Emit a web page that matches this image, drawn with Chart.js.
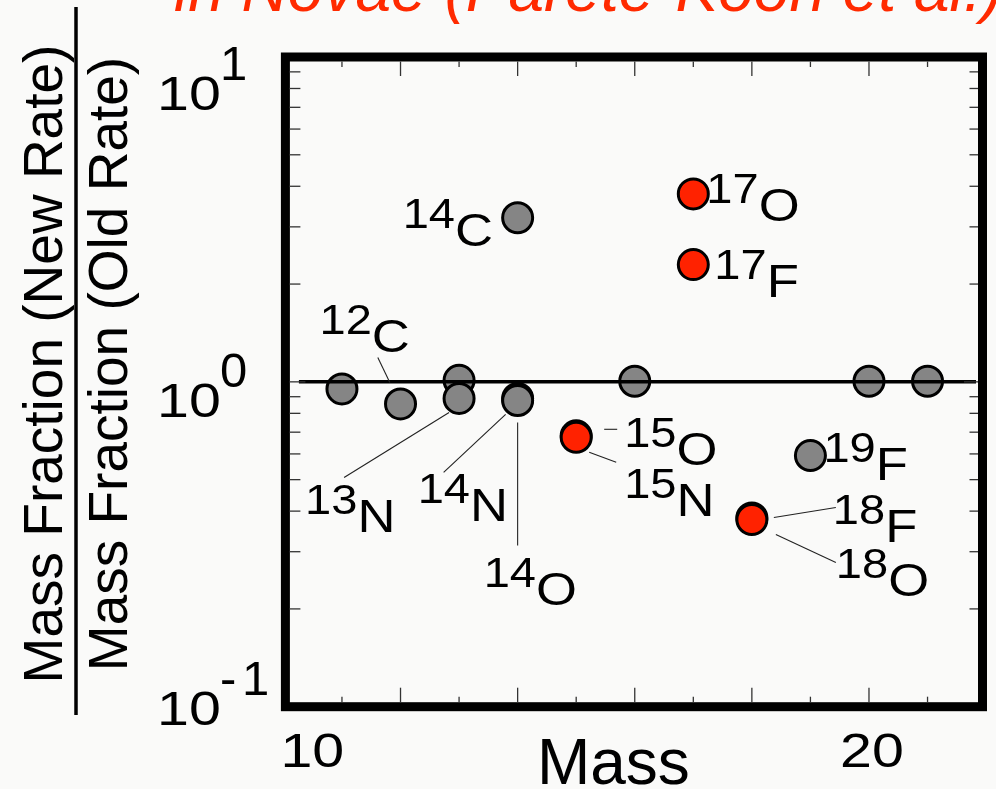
<!DOCTYPE html>
<html>
<head>
<meta charset="utf-8">
<title>Mass fraction ratio vs mass</title>
<script src="https://cdn.jsdelivr.net/npm/chart.js@4.4.0/dist/chart.umd.min.js"></script>
<style>
    html, body { margin: 0; padding: 0; overflow: hidden; background: #fafaf9; }
    #ratioChart { display: block; }
</style>
</head>
<body>
<canvas id="ratioChart" width="1000" height="789"></canvas>
<script>
// Mass fraction (new rate) / mass fraction (old rate)
const grayMass  = [11, 12, 13, 13, 14, 14, 14, 16, 19, 20, 21];
const grayRatio = [0.951, 0.855, 1.011, 0.889, 3.2, 0.889, 0.876, 1.004, 0.593, 1.004, 1.004];
const redMass   = [15, 15, 17, 17, 18, 18];
const redRatio  = [0.682, 0.675, 3.79, 2.296, 0.381, 0.377];

// Nuclide labels
const labelMass   = [14, 17, 17, 12, 13, 14, 14, 15, 15, 19, 18, 18];
const labelRatio  = [3.2, 3.79, 2.296, 0.855, 0.889, 0.889, 0.889, 0.675, 0.675, 0.593, 0.377, 0.377];
const labelA      = ['14', '17', '17', '12', '13', '14', '14', '15', '15', '19', '18', '18'];
const labelSymbol = ['C', 'O', 'F', 'C', 'N', 'N', 'O', 'O', 'N', 'F', 'F', 'O'];

// Axes
const xRange = [10, 21.93];
const yRange = [0.1, 10];
const xTickLabels = [10, 20];
const yTickExponents = [-1, 0, 1];

const titleText = 'in Novae (Parete-Koon et al.)';
const xTitle = 'Mass';
const yTitleTop = 'Mass Fraction (New Rate)';
const yTitleBottom = 'Mass Fraction (Old Rate)';

const FONT = '"Liberation Sans", Arial, Helvetica, sans-serif';

// label placement relative to its point: superscript origin dx, element baseline dy, optional leader line
const labelLayout = [
    { dx: -115, dy: 28 },
    { dx: 13, dy: 27 },
    { dx: 21, dy: 32 },
    { dx: -81, dy: -52, lead: [-22.7, -46.5, -10.7, -21.5] },
    { dx: -154, dy: 134, lead: [-115, 79, -10, 14] },
    { dx: -100, dy: 123, lead: [-74, 74, -12, 16] },
    { dx: -34, dy: 207, lead: [0, 24, 0, 147] },
    { dx: 48, dy: 28, lead: [28, -8, 41, -8] },
    { dx: 48, dy: 79, lead: [13, 15, 40, 25] },
    { dx: 13, dy: 24 },
    { dx: 81, dy: 23, lead: [22, -2, 84, -12] },
    { dx: 84, dy: 77, lead: [24, 15, 84, 43] }
];

function toPoints(xs, ys) {
    return xs.map((x, i) => ({ x: x, y: ys[i] }));
}

// text with a slight horizontal stretch, like the original lettering
function stretchText(ctx, text, x, y, font, sx) {
    ctx.save();
    ctx.translate(x, y);
    ctx.scale(sx, 1);
    ctx.font = font;
    ctx.fillText(text, 0, 0);
    const w = ctx.measureText(text).width * sx;
    ctx.restore();
    return w;
}

function line(ctx, x1, y1, x2, y2) {
    ctx.beginPath();
    ctx.moveTo(x1, y1);
    ctx.lineTo(x2, y2);
    ctx.stroke();
}

const framePlugin = {
    id: 'framePlugin',
    beforeDraw(chart) {
        const ctx = chart.ctx;
        ctx.save();
        ctx.fillStyle = '#fafaf9';
        ctx.fillRect(0, 0, chart.width, chart.height);
        ctx.restore();
    },
    afterDatasetsDraw(chart) {
        const ctx = chart.ctx;
        const a = chart.chartArea;
        const xs = chart.scales.x;
        const ys = chart.scales.y;
        ctx.save();
        ctx.fillStyle = '#000';
        ctx.strokeStyle = '#000';
        ctx.textAlign = 'left';
        ctx.textBaseline = 'alphabetic';

        // reference line at ratio = 1
        const y1 = ys.getPixelForValue(1);
        ctx.lineWidth = 3.5;
        line(ctx, a.left + 15.5, y1, a.right - 6, y1);

        // frame
        ctx.lineWidth = 9;
        ctx.strokeRect(a.left + 2, a.top, a.right - a.left - 1.5, a.bottom - a.top);

        // inward ticks
        ctx.lineWidth = 1.3;
        ctx.strokeStyle = '#333';
        for (let m = 11; m <= 21; m++) {
            const px = xs.getPixelForValue(m);
            const len = m % 2 === 0 ? 19 : 10;
            line(ctx, px, a.top + 4.5, px, a.top + len);
            line(ctx, px, a.bottom - 4.5, px, a.bottom - len);
        }
        [0.1, 1].forEach(dec => {
            for (let k = 1; k <= 9; k++) {
                const v = dec * k;
                if (v <= yRange[0]) continue;
                const py = ys.getPixelForValue(v);
                const major = k === 1;
                line(ctx, a.left + 6, py, a.left + (major ? 22 : 17), py);
                line(ctx, a.right - 4, py, a.right - (major ? 18 : 12.5), py);
            }
        });

        // nuclide labels and leader lines
        ctx.strokeStyle = '#222';
        ctx.lineWidth = 1.1;
        ctx.fillStyle = '#000';
        labelMass.forEach((m, i) => {
            const px = xs.getPixelForValue(m);
            const py = ys.getPixelForValue(labelRatio[i]);
            const L = labelLayout[i];
            if (L.lead) line(ctx, px + L.lead[0], py + L.lead[1], px + L.lead[2], py + L.lead[3]);
            const w = stretchText(ctx, labelA[i], px + L.dx, py + L.dy - 18, '42px ' + FONT, 1.12);
            stretchText(ctx, labelSymbol[i], px + L.dx + w, py + L.dy, '47px ' + FONT, 1.12);
        });

        // x tick labels
        xTickLabels.forEach((v, i) => {
            const px = xs.getPixelForValue(v);
            ctx.font = '49px ' + FONT;
            const w = ctx.measureText(String(v)).width * 1.17;
            const x0 = i === 0 ? px - 3 : px + 3 - w / 2;
            stretchText(ctx, String(v), x0, 767, '49px ' + FONT, 1.17);
        });

        // y tick labels 10^n
        const yLabelDy = { '-1': 18, '0': 35, '1': 53 };
        yTickExponents.forEach(e => {
            const py = ys.getPixelForValue(Math.pow(10, e));
            const base = py + yLabelDy[String(e)];
            stretchText(ctx, '10', 157, base, '49px ' + FONT, 1.17);
            ctx.font = '49px ' + FONT;
            if (e < 0) {
                ctx.fillText('-', 220, base - 30);
                ctx.fillText(String(-e), 242, base - 30);
            } else {
                ctx.fillText(String(e), 220, base - 30);
            }
        });

        // x axis title
        ctx.font = '64px ' + FONT;
        ctx.textAlign = 'center';
        ctx.fillText(xTitle, a.left + 330, 784);

        // y axis title as a fraction
        ctx.font = '55px ' + FONT;
        [[yTitleTop, 62], [yTitleBottom, 127]].forEach(t => {
            ctx.save();
            ctx.translate(t[1], 364);
            ctx.rotate(-Math.PI / 2);
            ctx.fillText(t[0], 0, 0);
            ctx.restore();
        });
        ctx.strokeStyle = '#000';
        ctx.lineWidth = 3.5;
        line(ctx, 76, 7, 76, 715);

        // title, cut off at the top edge
        ctx.textAlign = 'left';
        ctx.fillStyle = '#ff2a00';
        ctx.font = 'italic 64px ' + FONT;
        ctx.fillText(titleText, 174, 11);

        ctx.restore();
    }
};

document.addEventListener('DOMContentLoaded', function() {
    const ctx = document.getElementById('ratioChart').getContext('2d');
    new Chart(ctx, {
        type: 'scatter',
        data: {
            datasets: [{
                data: toPoints(redMass, redRatio),
                backgroundColor: '#ff2200',
                borderColor: '#000',
                borderWidth: 3,
                pointRadius: 15,
                pointHoverRadius: 15
            }, {
                data: toPoints(grayMass, grayRatio),
                backgroundColor: '#858585',
                borderColor: '#000',
                borderWidth: 3,
                pointRadius: 15,
                pointHoverRadius: 15
            }]
        },
        options: {
            responsive: false,
            animation: false,
            devicePixelRatio: 1,
            events: [],
            layout: {
                padding: { left: 283.4, top: 57, right: 5, bottom: 82.3 }
            },
            plugins: {
                legend: { display: false },
                tooltip: { enabled: false },
                title: { display: false }
            },
            scales: {
                x: { type: 'linear', min: xRange[0], max: xRange[1], display: false },
                y: { type: 'logarithmic', min: yRange[0], max: yRange[1], display: false }
            }
        },
        plugins: [framePlugin]
    });
});
</script>
</body>
</html>
